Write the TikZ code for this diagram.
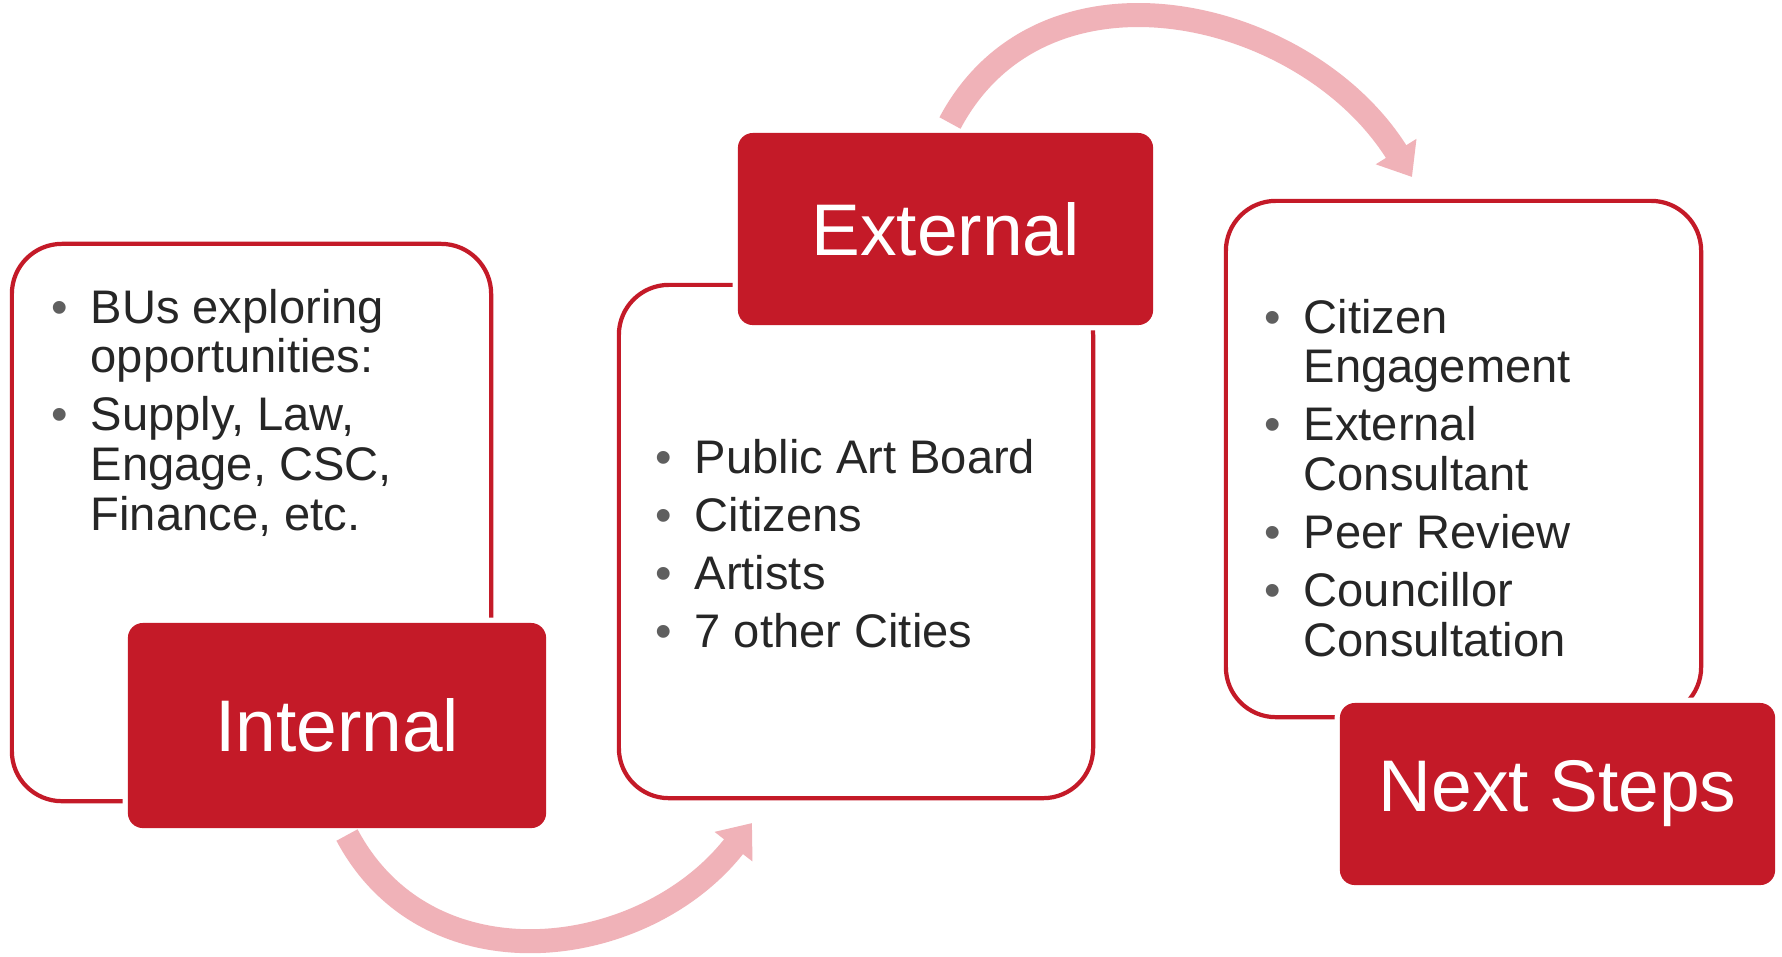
\documentclass[tikz,border=0pt]{standalone}
\usepackage{fontspec}
\setmainfont{Liberation Sans}
\usetikzlibrary{arrows.meta}

\definecolor{boxred}{RGB}{196,26,40}
\definecolor{arrowpink}{RGB}{240,178,184}
\definecolor{txtgray}{RGB}{38,38,38}
\definecolor{bulgray}{RGB}{95,95,95}

% one bullet line with hanging indent
\newcommand{\bitem}[1]{\par\hangindent=0.39cm\hangafter=1\noindent
  \makebox[0.39cm][l]{\textcolor{bulgray}{\textbullet}}#1\par}

\tikzset{
  panel/.style={draw=boxred, line width=1.2pt, fill=white, rounded corners=0.5cm, inner sep=0pt},
  tab/.style={fill=boxred, rounded corners=0.15cm, text=white, inner sep=0pt,
    font=\fontsize{20.8}{25}\selectfont, preaction={draw=white, line width=3pt}},
  listtext/.style={text=txtgray, font=\fontsize{13.4}{14.2}\selectfont, inner sep=0pt, anchor=base west},
  flow/.style={draw=arrowpink, line width=0.24cm, -{Triangle[length=0.3cm,width=0.46cm]}},
}

\begin{document}
\begin{tikzpicture}[x=0.01cm,y=0.01cm]
	\fill[white] (0,0) rectangle (1782,-956);
	\useasboundingbox (0,0) rectangle (1782,-956);
	% white panels
	\node[panel, minimum width=4.79cm, minimum height=5.57cm] (intpanel) at (251.5,-522.5) {};
	\node[panel, minimum width=4.74cm, minimum height=5.13cm] (extpanel) at (856,-541.5) {};
	\node[panel, minimum width=4.75cm, minimum height=5.16cm] (nextpanel) at (1463.5,-459) {};
	% red tabs
	\node[tab, minimum width=4.18cm, minimum height=2.05cm] (int) at (337,-725.5) {Internal};
	\node[tab, minimum width=4.15cm, minimum height=1.92cm] (ext) at (945.5,-229) {External};
	\node[tab, minimum width=4.35cm, minimum height=1.82cm] (next) at (1557.5,-794) {Next Steps};
	% lists
	\node[listtext] (intlist) at (51,-323) {\vtop{\hsize=4.2cm\parskip=2.3pt\raggedright
		\bitem{BUs exploring\newline opportunities:}
		\bitem{Supply, Law,\newline Engage, CSC,\newline Finance, etc.}}};
	\node[listtext] (extlist) at (655,-473) {\vtop{\hsize=4.2cm\parskip=2.3pt\raggedright
		\bitem{Public Art Board}
		\bitem{Citizens}
		\bitem{Artists}
		\bitem{7 other Cities}}};
	\node[listtext] (nextlist) at (1264,-333) {\vtop{\hsize=4.2cm\parskip=2.3pt\raggedright
		\bitem{Citizen\newline Engagement}
		\bitem{External\newline Consultant}
		\bitem{Peer Review}
		\bitem{Councillor\newline Consultation}}};
	% curved arrows
	\coordinate (intout) at (347,-835);
	\coordinate (extin) at (752,-823);
	\coordinate (extout) at (950,-123);
	\coordinate (nextin) at (1412,-177);
	\draw[flow] (intout) to[out=-62, in=-128, looseness=1.1] (extin);
	\draw[flow] (extout) to[out=62, in=122, looseness=1.1] (nextin);
\end{tikzpicture}
\end{document}
